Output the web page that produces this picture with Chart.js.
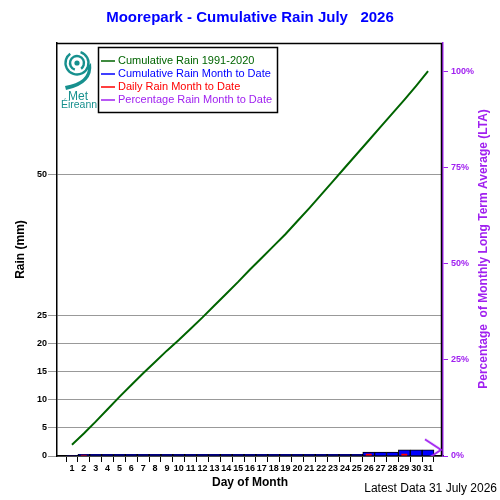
<!DOCTYPE html>
<html>
<head>
<meta charset="utf-8">
<script src="https://cdn.jsdelivr.net/npm/chart.js@4"></script>
<style>
  html, body { margin: 0; padding: 0; background: #fff; }
</style>
</head>
<body>
<canvas id="rain" width="500" height="500"></canvas>
<script>
const days = [1, 2, 3, 4, 5, 6, 7, 8, 9, 10, 11, 12, 13, 14, 15, 16,
  17, 18, 19, 20, 21, 22, 23, 24, 25, 26, 27, 28, 29, 30, 31];

// long term average, cumulative (mm)
const ltaCumulative = [2.0, 4.0, 6.1, 8.3, 10.5, 12.6, 14.7, 16.7, 18.7, 20.6, 22.6,
  24.6, 26.7, 28.8, 30.9, 33.1, 35.2, 37.3, 39.4, 41.7, 44.0, 46.4, 48.8, 51.2,
  53.6, 56.0, 58.4, 60.8, 63.2, 65.7, 68.3];

const cumulativeRain = [0.1, 0.3, 0.3, 0.3, 0.3, 0.3, 0.3, 0.3, 0.3, 0.3, 0.3, 0.3,
  0.3, 0.3, 0.3, 0.3, 0.3, 0.3, 0.3, 0.3, 0.3, 0.3, 0.3, 0.3, 0.3, 0.7, 0.7, 0.7,
  1.1, 1.1, 1.1];

const dailyRain = [0.1, 0.2, 0, 0, 0, 0, 0, 0, 0, 0, 0, 0, 0, 0, 0, 0, 0, 0, 0, 0,
  0, 0, 0, 0, 0, 0.4, 0, 0, 0.4, 0, 0];

const rainTicks = [0, 5, 10, 15, 20, 25, 50];
const pctTicks = [0, 25, 50, 75, 100];

const GREEN = '#006400';
const BLUE = '#0000ff';
const RED = '#ff0000';
const PURPLE = '#a020f0';
const TEAL = '#17908e';
const FONT = '"Liberation Sans", Arial, sans-serif';

Chart.defaults.font.family = FONT;

const xMin = -0.26, xMax = 32.26;
const rainMax = 73.3;
const ltaTotal = ltaCumulative[ltaCumulative.length - 1];
const pctToDate = cumulativeRain[cumulativeRain.length - 1] / ltaTotal * 100;

// arrow marker for the percentage (tip pointing at the right axis)
const chevron = document.createElement('canvas');
chevron.width = 40;
chevron.height = 24;
(function () {
  const c = chevron.getContext('2d');
  c.strokeStyle = PURPLE;
  c.lineWidth = 2;
  c.beginPath();
  c.moveTo(2, 1.5);
  c.lineTo(18, 12);
  c.lineTo(2, 22.5);
  c.stroke();
})();

const decor = {
  id: 'decor',
  beforeDatasetsDraw(chart) {
    const { ctx, chartArea: a } = chart;
    ctx.save();
    ctx.strokeStyle = '#000';
    ctx.lineWidth = 1.5;
    ctx.beginPath();
    ctx.moveTo(a.left, a.top + 0.5);
    ctx.lineTo(a.right - 1.5, a.top + 0.5);
    ctx.lineTo(a.right - 1.5, a.bottom);
    ctx.stroke();
    ctx.restore();
  },
  afterDraw(chart) {
    const ctx = chart.ctx;
    ctx.save();

    // legend box
    const lx = 98, ly = 47, lw = 179, lh = 65;
    ctx.fillStyle = '#fff';
    ctx.fillRect(lx, ly, lw, lh);
    ctx.strokeStyle = '#000';
    ctx.lineWidth = 1.5;
    ctx.strokeRect(lx + 0.5, ly + 0.5, lw, lh);
    ctx.font = '11px ' + FONT;
    ctx.textBaseline = 'middle';
    chart.data.datasets.forEach((ds, i) => {
      const y = ly + 14 + i * 13;
      ctx.strokeStyle = ds.legendColor;
      ctx.lineWidth = 1.5;
      ctx.beginPath();
      ctx.moveTo(lx + 3, y);
      ctx.lineTo(lx + 17, y);
      ctx.stroke();
      ctx.fillStyle = ds.legendColor;
      ctx.fillText(ds.label, lx + 20, y);
    });

    // Met Éireann logo
    ctx.strokeStyle = TEAL;
    ctx.fillStyle = TEAL;
    ctx.lineWidth = 2.4;
    ctx.beginPath();
    ctx.arc(77, 63, 11.5, -0.4 * Math.PI, 1.3 * Math.PI);
    ctx.stroke();
    ctx.beginPath();
    ctx.arc(77, 63, 7, 0.6 * Math.PI, 2.3 * Math.PI);
    ctx.stroke();
    ctx.beginPath();
    ctx.arc(77, 63, 2.6, 0, 2 * Math.PI);
    ctx.fill();
    ctx.beginPath();
    ctx.moveTo(88, 66);
    ctx.quadraticCurveTo(89, 82, 65, 86);
    ctx.lineTo(66, 90);
    ctx.quadraticCurveTo(94, 84, 91, 63);
    ctx.closePath();
    ctx.fill();
    ctx.textAlign = 'center';
    ctx.font = '12px ' + FONT;
    ctx.fillText('Met', 78, 97);
    ctx.font = '10.5px ' + FONT;
    ctx.fillText('Éireann', 79, 105.5);

    // right axis title, reads upwards
    ctx.save();
    ctx.translate(484, 249);
    ctx.rotate(-Math.PI / 2);
    ctx.fillStyle = PURPLE;
    ctx.font = 'bold 12px ' + FONT;
    ctx.textAlign = 'center';
    ctx.fillText('Percentage  of Monthly Long Term Average (LTA)', 0, 0);
    ctx.restore();

    // footer
    ctx.fillStyle = '#000';
    ctx.font = '12px ' + FONT;
    ctx.textAlign = 'right';
    ctx.fillText('Latest Data 31 July 2026', 497, 489);
    ctx.restore();
  }
};

new Chart(document.getElementById('rain'), {
  type: 'bar',
  data: {
    datasets: [
      {
        type: 'line',
        label: 'Cumulative Rain 1991-2020',
        legendColor: GREEN,
        data: days.map((d, i) => ({ x: d, y: ltaCumulative[i] })),
        borderColor: GREEN,
        borderWidth: 2,
        pointRadius: 0,
        tension: 0,
        yAxisID: 'y',
        order: 0
      },
      {
        label: 'Cumulative Rain Month to Date',
        legendColor: BLUE,
        data: days.map((d, i) => ({ x: d, y: cumulativeRain[i] })),
        backgroundColor: BLUE,
        borderColor: '#000',
        borderWidth: 1,
        barPercentage: 1,
        categoryPercentage: 1,
        grouped: false,
        yAxisID: 'y',
        order: 3
      },
      {
        label: 'Daily Rain Month to Date',
        legendColor: RED,
        data: days.map((d, i) => ({ x: d, y: dailyRain[i] })),
        backgroundColor: RED,
        borderWidth: 0,
        barPercentage: 0.5,
        categoryPercentage: 1,
        grouped: false,
        yAxisID: 'y',
        order: 2
      },
      {
        type: 'line',
        label: 'Percentage Rain Month to Date',
        legendColor: PURPLE,
        data: [{ x: xMax, y: pctToDate }],
        showLine: false,
        pointStyle: chevron,
        pointRadius: 10,
        borderColor: PURPLE,
        yAxisID: 'y2',
        order: 1
      }
    ]
  },
  options: {
    responsive: false,
    animation: false,
    layout: { padding: 0 },
    scales: {
      x: {
        type: 'linear',
        min: xMin,
        max: xMax,
        offset: false,
        afterBuildTicks: s => { s.ticks = days.map(d => ({ value: d })); },
        ticks: {
          autoSkip: false,
          maxRotation: 0,
          color: '#000',
          padding: 1,
          font: { size: 9, weight: 'bold' }
        },
        grid: { drawOnChartArea: false, color: '#000', tickLength: 6 },
        border: { color: '#000', width: 1.5 },
        title: {
          display: true,
          text: 'Day of Month',
          color: '#000',
          font: { size: 12, weight: 'bold' },
          padding: { top: 0, bottom: 10 }
        },
        afterFit: s => { s.height = 44; }
      },
      y: {
        type: 'linear',
        position: 'left',
        min: 0,
        max: rainMax,
        afterBuildTicks: s => { s.ticks = rainTicks.map(v => ({ value: v })); },
        ticks: { color: '#000', padding: 1, font: { size: 9, weight: 'bold' } },
        grid: { color: '#999', tickLength: 9 },
        border: { color: '#000', width: 1.5 },
        title: {
          display: true,
          text: 'Rain (mm)',
          color: '#000',
          font: { size: 12, weight: 'bold' },
          padding: { top: 13, bottom: 0 }
        },
        afterFit: s => { s.width = 57; }
      },
      y2: {
        type: 'linear',
        position: 'right',
        min: 0,
        max: rainMax / ltaTotal * 100,
        afterBuildTicks: s => { s.ticks = pctTicks.map(v => ({ value: v })); },
        ticks: {
          color: PURPLE,
          padding: 3,
          font: { size: 9, weight: 'bold' },
          callback: v => v + '%'
        },
        grid: { drawOnChartArea: false, color: PURPLE, tickLength: 5 },
        border: { color: PURPLE, width: 1.5 },
        afterFit: s => { s.width = 57; }
      }
    },
    plugins: {
      legend: { display: false },
      tooltip: { enabled: false },
      title: {
        display: true,
        text: 'Moorepark - Cumulative Rain July   2026',
        color: BLUE,
        font: { size: 15, weight: 'bold' },
        padding: { top: 9, bottom: 16 }
      }
    }
  },
  plugins: [decor]
});
</script>
</body>
</html>
